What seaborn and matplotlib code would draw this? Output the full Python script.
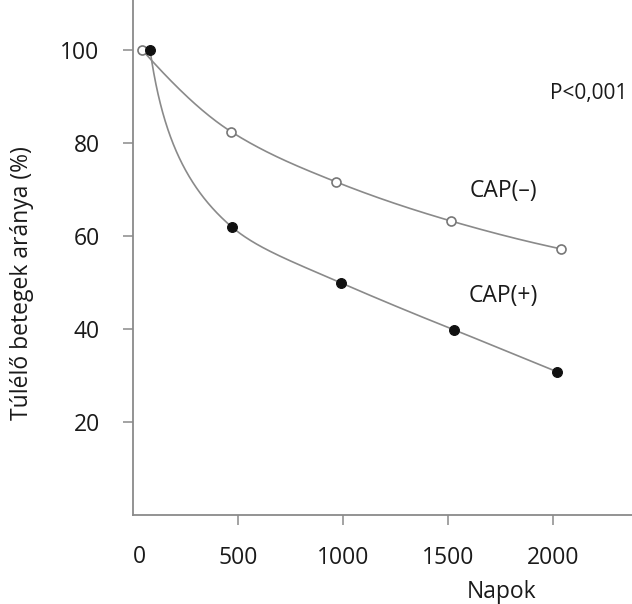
import numpy as np
import pandas as pd
import matplotlib
matplotlib.use("Agg")
import matplotlib.pyplot as plt
import seaborn as sns

# ---- data ----
days_neg = [43, 467, 967, 1514, 2038]
surv_neg = [100, 82.4, 71.6, 63.2, 57.2]
days_pos = [81, 471, 990, 1529, 2019]
surv_pos = [100, 61.9, 49.9, 39.8, 30.8]
x_ticks = [500, 1000, 1500, 2000]
y_ticks = [20, 40, 60, 80, 100]
label_neg = "CAP(–)"
label_pos = "CAP(+)"
p_text = "P<0,001"
x_label = "Napok"
y_label = "Túlélő betegek aránya (%)"


def pchip(x, y, xs):
    """Monotone cubic Hermite curve through the data points (for drawing the smooth line)."""
    x = np.asarray(x, float); y = np.asarray(y, float)
    h = np.diff(x); d = np.diff(y) / h
    n = len(x); m = np.zeros(n)
    for k in range(1, n - 1):
        if d[k - 1] * d[k] > 0:
            w1 = 2 * h[k] + h[k - 1]; w2 = h[k] + 2 * h[k - 1]
            m[k] = (w1 + w2) / (w1 / d[k - 1] + w2 / d[k])
    def end(h0, h1, d0, d1):
        v = ((2 * h0 + h1) * d0 - h0 * d1) / (h0 + h1)
        if np.sign(v) != np.sign(d0):
            v = 0.0
        elif np.sign(d0) != np.sign(d1) and abs(v) > 3 * abs(d0):
            v = 3 * d0
        return v
    m[0] = end(h[0], h[1], d[0], d[1])
    m[-1] = end(h[-1], h[-2], d[-1], d[-2])
    idx = np.clip(np.searchsorted(x, xs) - 1, 0, n - 2)
    t = (xs - x[idx]) / h[idx]
    h00 = 2 * t**3 - 3 * t**2 + 1; h10 = t**3 - 2 * t**2 + t
    h01 = -2 * t**3 + 3 * t**2; h11 = t**3 - t**2
    return h00 * y[idx] + h10 * h[idx] * m[idx] + h01 * y[idx + 1] + h11 * h[idx] * m[idx + 1]


sns.set_style("ticks")
plt.rcParams["font.family"] = ["Open Sans", "DejaVu Sans"]

fig = plt.figure(figsize=(6.32, 6.04), dpi=100)
ax = fig.add_axes([133 / 632, 89 / 604, 499 / 632, 515 / 604])

line_col = "#8a8a8a"
txt_col = "#1a1a1a"
fs = 16.5

# smooth curves
xs_neg = np.linspace(days_neg[0], days_neg[-1], 300)
ys_neg = pchip(days_neg, surv_neg, xs_neg)
u = np.log(np.asarray(days_pos, float))
us = np.linspace(u[0], u[-1], 400)
ys_pos = pchip(u, surv_pos, us)
xs_pos = np.exp(us)

curve = pd.concat([
    pd.DataFrame({"x": xs_neg, "y": ys_neg, "g": label_neg}),
    pd.DataFrame({"x": xs_pos, "y": ys_pos, "g": label_pos}),
])
sns.lineplot(data=curve, x="x", y="y", units="g", estimator=None, sort=False,
             color=line_col, linewidth=1.2, ax=ax, legend=False)

pts_neg = pd.DataFrame({"x": days_neg, "y": surv_neg})
pts_pos = pd.DataFrame({"x": days_pos, "y": surv_pos})
sns.scatterplot(data=pts_neg, x="x", y="y", s=42, facecolor="white",
                edgecolor="#777777", linewidth=1.2, ax=ax, zorder=3)
sns.scatterplot(data=pts_pos, x="x", y="y", s=50, color="#111111",
                edgecolor="#111111", linewidth=0.8, ax=ax, zorder=3)

ax.set_xlim(0, 2376)
ax.set_ylim(0, 110.7)
ax.set_xticks(x_ticks)
ax.set_yticks(y_ticks)
ax.set_xticklabels([str(v) for v in x_ticks], fontsize=fs, color=txt_col)
ax.set_yticklabels([str(v) for v in y_ticks], fontsize=fs, color=txt_col)
ax.tick_params(axis="x", length=7, width=1.1, color=line_col, pad=15)
ax.tick_params(axis="y", length=7, width=1.1, color=line_col, pad=17)

# "0" label at the origin
ax.text(0, -(557 - 515) / 515, "0", transform=ax.transAxes, ha="left", va="center",
        fontsize=fs, color=txt_col)

for side in ["top", "right"]:
    ax.spines[side].set_visible(False)
for side in ["left", "bottom"]:
    ax.spines[side].set_color(line_col)
    ax.spines[side].set_linewidth(1.3)

ax.set_xlabel(x_label, fontsize=fs, color=txt_col, va="center")
ax.xaxis.set_label_coords((502 - 133) / 499, -(592 - 515) / 515)
ax.set_ylabel(y_label, fontsize=fs, color=txt_col, va="center")
ax.yaxis.set_label_coords((22 - 133) / 499, (515 - 283) / 515)

ax.text(1762, 69.7, label_neg, ha="center", va="center", fontsize=fs, color=txt_col)
ax.text(1762, 47.1, label_pos, ha="center", va="center", fontsize=fs, color=txt_col)
ax.text((627 - 133) / 499, (515 - 94) / 515, p_text, transform=ax.transAxes,
        ha="right", va="center", fontsize=15, color=txt_col)

fig.savefig("out.png", dpi=100, facecolor="white")
